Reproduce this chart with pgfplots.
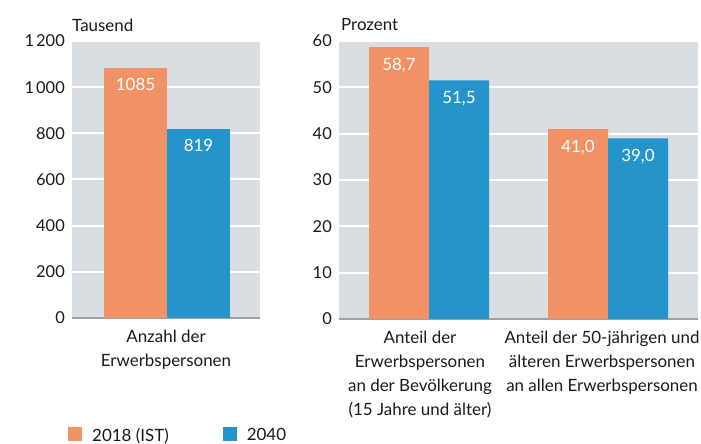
\documentclass[border=0pt]{standalone}
\usepackage{fontspec}
\setmainfont{Lato}
\usepackage{pgfplots}
\pgfplotsset{compat=1.18}
\definecolor{orng}{RGB}{240,145,102}
\definecolor{blu}{RGB}{36,148,203}
\definecolor{bg}{RGB}{216,222,225}
\definecolor{axgray}{RGB}{160,160,160}
\definecolor{txt}{RGB}{26,26,26}

\tikzset{unitlbl/.style={anchor=base west, inner sep=0pt, text=txt, font=\fontsize{17}{24}\selectfont}}
\pgfplotsset{
  panel/.style={
    scale only axis, anchor=south west, clip mode=individual,
    axis background/.style={fill=bg},
    axis x line*=bottom, axis y line*=left,
    x axis line style={-, draw=axgray, line width=2.5bp},
    y axis line style={draw=none},
    major tick length=0pt,
    ymajorgrids, grid style={white, line width=2bp},
    ybar, bar shift=0pt,
    font=\fontsize{17}{24}\selectfont,
    every tick label/.append style={text=txt},
    yticklabel style={anchor=east, inner sep=0pt, xshift=-7bp, font=\fontsize{16.5}{24}\selectfont},
    xticklabel style={align=center, anchor=north, inner sep=0pt, yshift=-12bp},
    /pgf/number format/assume math mode=true,
    every node near coord/.append style={anchor=base, yshift=-23bp, text=white, inner sep=0pt},
  },
}

\begin{document}
\begin{tikzpicture}
\path[use as bounding box] (0,0) rectangle (701bp,444bp);

% linkes Panel: Anzahl
\begin{axis}[panel,
    at={(72bp,126bp)}, width=188bp, height=277bp,
    xmin=0, xmax=188, ymin=0, ymax=1200,
    ytick={0,200,400,600,800,1000,1200},
    yticklabels={0,200,400,600,800,1\kern2bp000,1\kern2bp200},
    xtick={94}, xticklabels={Anzahl der\\Erwerbspersonen},
    bar width=63,
    nodes near coords={\pgfmathprintnumber[fixed,precision=0,1000 sep={}]{\pgfplotspointmeta}},
    legend columns=2,
    legend style={at={(axis description cs:-0.0213,-0.4224)}, anchor=west,
      draw=none, fill=none, inner sep=0pt, nodes={inner sep=0pt, text=txt},
      font=\fontsize{17}{24}\selectfont,
      /tikz/every odd column/.append style={column sep=10bp},
      /tikz/every even column/.append style={column sep=54bp}},
    legend image code/.code={\fill[#1,draw=none] (0bp,-6bp) rectangle (14bp,8bp);},
  ]
  \addplot[fill=orng, draw=none] coordinates {(63.5,1085)};
  \addlegendentry{2018 (IST)}
  \addplot[fill=blu, draw=none] coordinates {(126.5,819)};
  \addlegendentry{2040}
  \node[unitlbl] at (rel axis cs:0,1) [yshift=9bp] {Tausend};
\end{axis}

% rechtes Panel: Prozent
\begin{axis}[panel,
    at={(339bp,125bp)}, width=359bp, height=278bp,
    xmin=0, xmax=359, ymin=0, ymax=60,
    ytick={0,10,...,60},
    xtick={81,263},
    xticklabels={Anteil der\\Erwerbspersonen\\an der Bevölkerung\\(15 Jahre und älter),
                 Anteil der 50-jährigen und\\älteren Erwerbspersonen\\an allen Erwerbspersonen},
    bar width=60,
    nodes near coords={\pgfmathprintnumber[fixed,fixed zerofill,precision=1,use comma]{\pgfplotspointmeta}},
  ]
  \addplot[fill=orng, draw=none] coordinates {(60,58.7) (239,41.0)};
  \addplot[fill=blu, draw=none] coordinates {(120,51.5) (299,39.0)};
  \node[unitlbl] at (rel axis cs:0,1) [xshift=2bp, yshift=11bp] {Prozent};
\end{axis}
\end{tikzpicture}
\end{document}
